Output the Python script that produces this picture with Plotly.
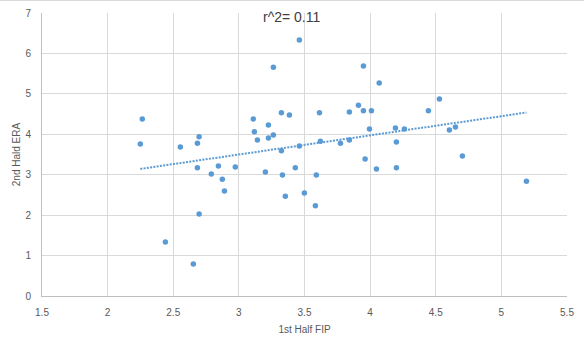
import numpy as np
import plotly.graph_objects as go

# 1st-half FIP vs 2nd-half ERA per pitcher
fip_1st = [2.264, 2.249, 2.554, 2.684, 2.697, 2.684, 2.697, 2.440, 2.653,
           3.461, 3.263, 3.949, 4.069, 3.110, 3.324, 3.385, 3.614, 3.842,
           3.911, 3.949, 4.010, 3.225, 3.118, 3.141, 3.225, 3.263, 3.995,
           3.461, 3.324, 3.621, 3.774, 3.842, 3.962, 2.844, 2.973, 4.048,
           2.790, 2.874, 2.890, 3.202, 3.332, 3.430, 3.590, 3.354, 3.499,
           3.583, 4.444, 4.528, 4.193, 4.261, 4.200, 4.604, 4.650, 4.703,
           4.200, 5.191]
era_2nd = [4.38, 3.76, 3.685, 3.78, 3.94, 3.17, 2.03, 1.336, 0.79,
           6.33, 5.66, 5.69, 5.27, 4.38, 4.53, 4.48, 4.53, 4.55,
           4.72, 4.58, 4.58, 4.23, 4.06, 3.86, 3.91, 3.98, 4.13,
           3.71, 3.59, 3.83, 3.78, 3.86, 3.39, 3.215, 3.19, 3.14,
           3.02, 2.89, 2.60, 3.07, 2.99, 3.17, 2.99, 2.47, 2.55,
           2.23, 4.58, 4.87, 4.155, 4.13, 3.81, 4.105, 4.18, 3.46,
           3.17, 2.84]

title_text = "r^2= 0.11"
x_title = "1st Half FIP"
y_title = "2nd Hald ERA"

BLUE = "#5b9bd5"
GRID = "#d9d9d9"
TEXT = "#595959"
FONT = "Liberation Sans"

# plot-area geometry in pixels
L, R, T, B = 42, 17, 13, 45
W, H = 584, 341
PW, PH = W - L - R, H - T - B

# least-squares trendline over the data's x span
slope, intercept = np.polyfit(fip_1st, era_2nd, 1)
tx = np.array([min(fip_1st), max(fip_1st)])
ty = slope * tx + intercept

fig = go.Figure()
fig.add_trace(go.Scatter(
    x=tx, y=ty, mode="lines",
    line=dict(color=BLUE, width=2, dash="2px,1.3px"),
    hoverinfo="skip", showlegend=False,
))
fig.add_trace(go.Scatter(
    x=fip_1st, y=era_2nd, mode="markers",
    marker=dict(color=BLUE, size=5.5, line=dict(width=0)),
    showlegend=False,
))

fig.update_layout(
    width=W, height=H,
    margin=dict(l=L, r=R, t=T, b=B),
    paper_bgcolor="white", plot_bgcolor="white",
    font=dict(family=FONT, size=10, color=TEXT),
    xaxis=dict(
        range=[1.5, 5.5], dtick=0.5, tick0=1.5, automargin=False,
        showgrid=True, gridcolor=GRID, gridwidth=1,
        zeroline=False, showline=True, linecolor="#bfbfbf", linewidth=1,
        ticks="", ticklabelstandoff=7, tickfont=dict(size=10, color=TEXT),
        title=dict(text=x_title, font=dict(size=10, color=TEXT), standoff=8),
    ),
    yaxis=dict(
        range=[0, 7], dtick=1, automargin=False,
        showgrid=True, gridcolor=GRID, gridwidth=1,
        zeroline=False, showline=True, linecolor="#bfbfbf", linewidth=1,
        ticks="", ticklabelstandoff=8, tickfont=dict(size=10, color=TEXT),
        title=dict(text=y_title, font=dict(size=10, color=TEXT), standoff=2),
    ),
    annotations=[dict(
        text=title_text, xref="paper", yref="paper",
        x=(292 - L) / PW, y=1 + (T - 17) / PH,
        xanchor="center", yanchor="middle",
        showarrow=False, font=dict(size=14, color="#404040"),
    )],
)

# thin chart-area border along the top edge
fig.add_shape(type="line", xref="paper", yref="paper",
              x0=-0.2, x1=1.1, y0=1 + 12.5 / PH, y1=1 + 12.5 / PH,
              line=dict(color="#d9d9d9", width=1))

fig.write_html("out.html")
